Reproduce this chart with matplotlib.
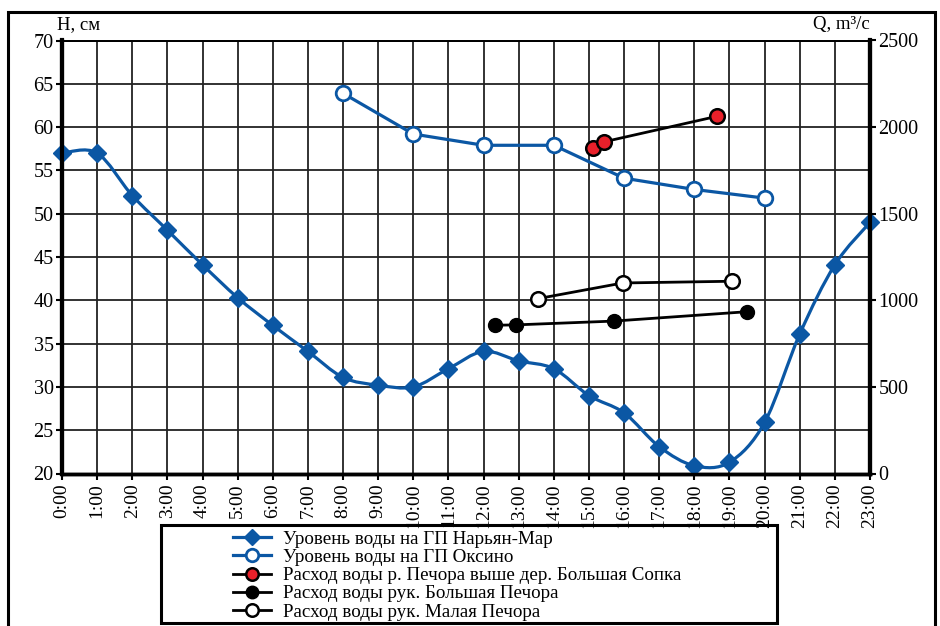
import matplotlib
matplotlib.use("Agg")
import matplotlib.pyplot as plt
from matplotlib.path import Path
from matplotlib.patches import PathPatch, Rectangle
from matplotlib.lines import Line2D

plt.rcParams['font.family'] = ['Liberation Serif', 'DejaVu Serif']

# ---- data ----
hours = list(range(24))
hour_labels = [f"{h}:00" for h in hours]

naryan_h = [57.0, 57.0, 52.1, 48.1, 44.1, 40.3, 37.1, 34.1, 31.1, 30.2, 30.0, 32.1,
            34.1, 33.0, 32.1, 29.0, 27.0, 23.1, 20.9, 21.3, 25.9, 36.1, 44.1, 49.0]

oksino_t = [8, 10, 12, 14, 16, 18, 20]
oksino_h = [63.9, 59.2, 57.9, 57.9, 54.1, 52.8, 51.8]

sopka_t = [15.12, 15.43, 18.64]
sopka_q = [1880, 1915, 2062]

bolsh_t = [12.33, 12.91, 15.71, 19.49]
bolsh_q = [856, 858, 880, 934]

malaya_t = [13.56, 15.96, 19.06]
malaya_q = [1010, 1100, 1110]

labels = ["Уровень воды на ГП Нарьян-Мар",
          "Уровень воды на ГП Оксино",
          "Расход воды р. Печора выше дер. Большая Сопка",
          "Расход воды рук. Большая Печора",
          "Расход воды рук. Малая Печора"]

BLUE = '#0B57A4'
RED = '#E8202A'

fig = plt.figure(figsize=(9.4, 6.26), dpi=100)
ax = fig.add_axes([62/940, 1-473.5/626, (870-62)/940, (473.5-40.5)/626])
ax2 = ax.twinx()

ax.set_xlim(0, 23)
ax.set_ylim(20, 70)
ax2.set_ylim(0, 2500)
ax.set_yticks(range(20, 71, 5))
ax2.set_yticks(range(0, 2501, 500))
ax.set_xticks(hours)
ax.set_xticklabels(hour_labels, rotation=90, fontsize=14)
ax.tick_params(axis='y', labelsize=14.5, length=4, width=1.5, pad=2, colors='black')
ax.tick_params(axis='x', length=4, width=1.5, pad=3)
ax2.tick_params(axis='y', labelsize=14.5, length=4, width=1.5, pad=2)

ax.grid(True, color='#222222', linewidth=1.3)
ax.set_axisbelow(True)
for a in (ax, ax2):
    a.spines['left'].set_linewidth(3)
    a.spines['right'].set_linewidth(3)
    a.spines['bottom'].set_linewidth(2.5)
    a.spines['top'].set_linewidth(1.3)

# smoothed Naryan-Mar line (Bezier through points)
n = len(hours)
verts = [(hours[0], naryan_h[0])]
codes = [Path.MOVETO]
for i in range(n - 1):
    p0 = (hours[max(i - 1, 0)], naryan_h[max(i - 1, 0)])
    p1 = (hours[i], naryan_h[i])
    p2 = (hours[i + 1], naryan_h[i + 1])
    p3 = (hours[min(i + 2, n - 1)], naryan_h[min(i + 2, n - 1)])
    c1 = (p1[0] + (p2[0] - p0[0]) / 6, p1[1] + (p2[1] - p0[1]) / 6)
    c2 = (p2[0] - (p3[0] - p1[0]) / 6, p2[1] - (p3[1] - p1[1]) / 6)
    verts += [c1, c2, p2]
    codes += [Path.CURVE4] * 3
ax.add_patch(PathPatch(Path(verts, codes), fill=False, edgecolor=BLUE, lw=2.3, zorder=3))
ax.plot(hours, naryan_h, linestyle='none', marker='D', markersize=9, color=BLUE,
        zorder=4, clip_on=False)

ax.plot(oksino_t, oksino_h, color=BLUE, lw=2.3, marker='o', markersize=10.5,
        markerfacecolor='white', markeredgecolor=BLUE, markeredgewidth=2, zorder=4)

ax2.plot(sopka_t, sopka_q, color='black', lw=2, marker='o', markersize=10.5,
         markerfacecolor=RED, markeredgecolor='black', markeredgewidth=1.8, zorder=4)
ax2.plot(bolsh_t, bolsh_q, color='black', lw=2, marker='o', markersize=10,
         markerfacecolor='black', markeredgecolor='black', zorder=4)
ax2.plot(malaya_t, malaya_q, color='black', lw=2, marker='o', markersize=10.5,
         markerfacecolor='white', markeredgecolor='black', markeredgewidth=1.8, zorder=4)

fig.text(57/940, 1-25/626, "H, см", fontsize=13.5, ha='left', va='center')
fig.text(870/940, 1-25/626, "Q, m³/c", fontsize=13.5, ha='right', va='center')

handles = [
    Line2D([], [], color=BLUE, lw=2.3, marker='D', markersize=8),
    Line2D([], [], color=BLUE, lw=2.3, marker='o', markersize=9, markerfacecolor='white',
           markeredgecolor=BLUE, markeredgewidth=2),
    Line2D([], [], color='black', lw=2, marker='o', markersize=9, markerfacecolor=RED,
           markeredgecolor='black', markeredgewidth=1.8),
    Line2D([], [], color='black', lw=2, marker='o', markersize=9, markerfacecolor='black'),
    Line2D([], [], color='black', lw=2, marker='o', markersize=9, markerfacecolor='white',
           markeredgecolor='black', markeredgewidth=1.8),
]
fig.legend(handles, labels, loc='upper left', bbox_to_anchor=(220/940, 1-517/626),
           frameon=False, fontsize=13.7, handlelength=2.0, handletextpad=0.6,
           labelspacing=0.05, borderpad=0.2)

fig.patches.append(Rectangle((161/940, 1-623/626), (777-161)/940, (623-525)/626,
                             transform=fig.transFigure, fill=False, edgecolor='black',
                             lw=2.2))
fig.patches.append(Rectangle((8/940, -0.02), (935-8)/940, 1-12/626+0.02,
                             transform=fig.transFigure, fill=False, edgecolor='black',
                             lw=2.2, clip_on=False))

fig.savefig("out.png", dpi=100)
